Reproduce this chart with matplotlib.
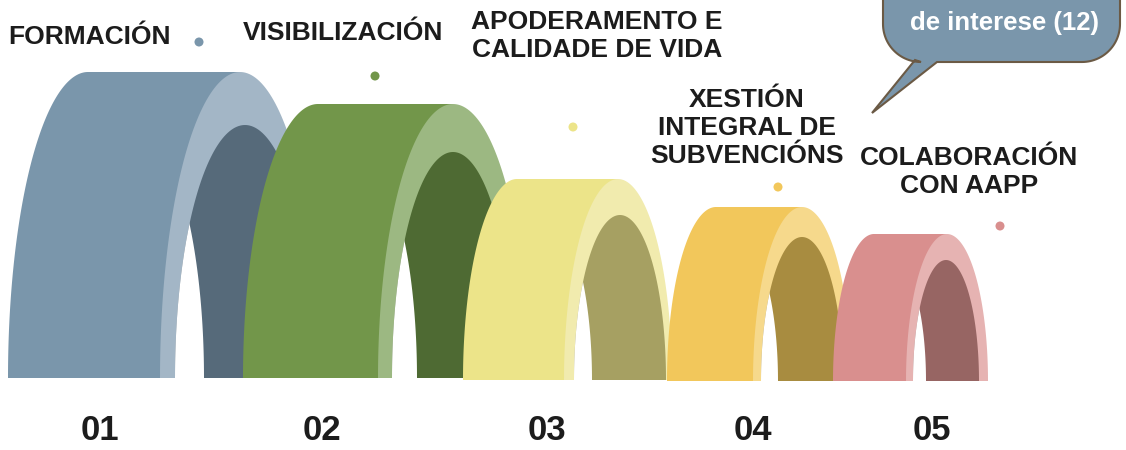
import numpy as np
import matplotlib
matplotlib.use("Agg")
import matplotlib.pyplot as plt
from matplotlib.patches import Polygon, Circle

plt.rcParams['font.family'] = ['Liberation Sans', 'DejaVu Sans']

# etiquetas e números
labels = ["FORMACIÓN", "VISIBILIZACIÓN", "APODERAMENTO E\nCALIDADE DE VIDA",
          "XESTIÓN\nINTEGRAL DE\nSUBVENCIÓNS", "COLABORACIÓN\nCON AAPP"]
numbers = ["01", "02", "03", "04", "05"]
bubble_text = "de interese (12)"

# cores: cara, borde claro, interior escuro
face_col = ["#7a96ab", "#72964a", "#ece489", "#f2c75b", "#d98f8e"]
light_col = ["#a3b6c6", "#9cb882", "#f1ebae", "#f6d98c", "#e6b3b2"]
dark_col = ["#566a7a", "#4e6a33", "#a6a062", "#a88c40", "#976563"]

# xeometría dos arcos (px)
cx = [240, 453, 618, 802, 947]
base = [378, 378, 380, 381, 381]
a_out = [80, 75, 54, 49, 41]
b_out = [306, 274, 201, 174, 147]
depth = [152, 135, 101, 86, 73]
cx_in = [245, 453, 620, 802, 946]
a_in = [70, 61, 46, 41, 33]
b_in = [253, 226, 165, 144, 121]
shift_in = [111, 97, 74, 65, 53]

label_xy = [(8, 37, 'left'), (243, 33, 'left'), (597, 36, 'center'),
            (747, 128, 'center'), (969, 172, 'center')]
dot_xy = [(199, 42), (375, 76), (573, 127), (778, 187), (1000, 226)]
num_x = [100, 322, 547, 753, 932]


def ell(c, y0, a, b, t0, t1, n=120):
    t = np.linspace(t0, t1, n)
    return np.column_stack([c + a * np.cos(t), y0 - b * np.sin(t)])


fig = plt.figure(figsize=(11.26, 4.5), dpi=100)
ax = fig.add_axes([0, 0, 1, 1])
ax.set_xlim(0, 1126)
ax.set_ylim(450, 0)
ax.axis('off')

for i in range(5):
    c, y0, a, b, d = cx[i], base[i], a_out[i], b_out[i], depth[i]
    # cara frontal (varrido do arco)
    pts = ell(c - d, y0, a, b, np.pi, np.pi / 2)
    pts = np.vstack([pts, [[c, y0 - b], [c, y0]]])
    ax.add_patch(Polygon(pts, closed=True, fc=face_col[i], ec='none'))
    # cara do extremo
    ax.add_patch(Polygon(ell(c, y0, a, b, 0, np.pi), closed=True,
                         fc=light_col[i], ec='none'))
    inner = Polygon(ell(cx_in[i], y0, a_in[i], b_in[i], 0, np.pi), closed=True,
                    fc=dark_col[i], ec='none')
    ax.add_patch(inner)
    hole = Polygon(ell(cx_in[i] - shift_in[i], y0, a_in[i], b_in[i], 0, np.pi),
                   closed=True, fc='white', ec='none')
    ax.add_patch(hole)
    hole.set_clip_path(inner)

for i in range(5):
    x, y, ha = label_xy[i]
    ax.text(x, y, labels[i], ha=ha, va='center', fontsize=19, fontweight='bold',
            color='#1c1c1c', linespacing=1.22)
    ax.add_patch(Circle(dot_xy[i], 4.5, fc=face_col[i], ec='none'))
    ax.text(num_x[i], 431, numbers[i], ha='center', va='center', fontsize=25,
            fontweight='bold', color='#1c1c1c')

# globo de texto
r = 38
L, R, T, B = 883, 1120, -40, 62
bub = [[R, T]]
t = np.linspace(0, np.pi / 2, 30)
bub += [[R - r + r * np.cos(tt), B - r + r * np.sin(tt)] for tt in t]
bub += [[937, B], [872, 113], [915, B - 2]]
bub += [[L + r - r * np.sin(tt), B - r + r * np.cos(tt)] for tt in t]
bub += [[L, T]]
ax.add_patch(Polygon(bub, closed=True, fc='#7a96ab', ec='#6b5a45', lw=1.5))
ax.text(1004, 23, bubble_text, ha='center', va='center', fontsize=18.5,
        fontweight='bold', color='white')

fig.savefig("out.png", dpi=100)
